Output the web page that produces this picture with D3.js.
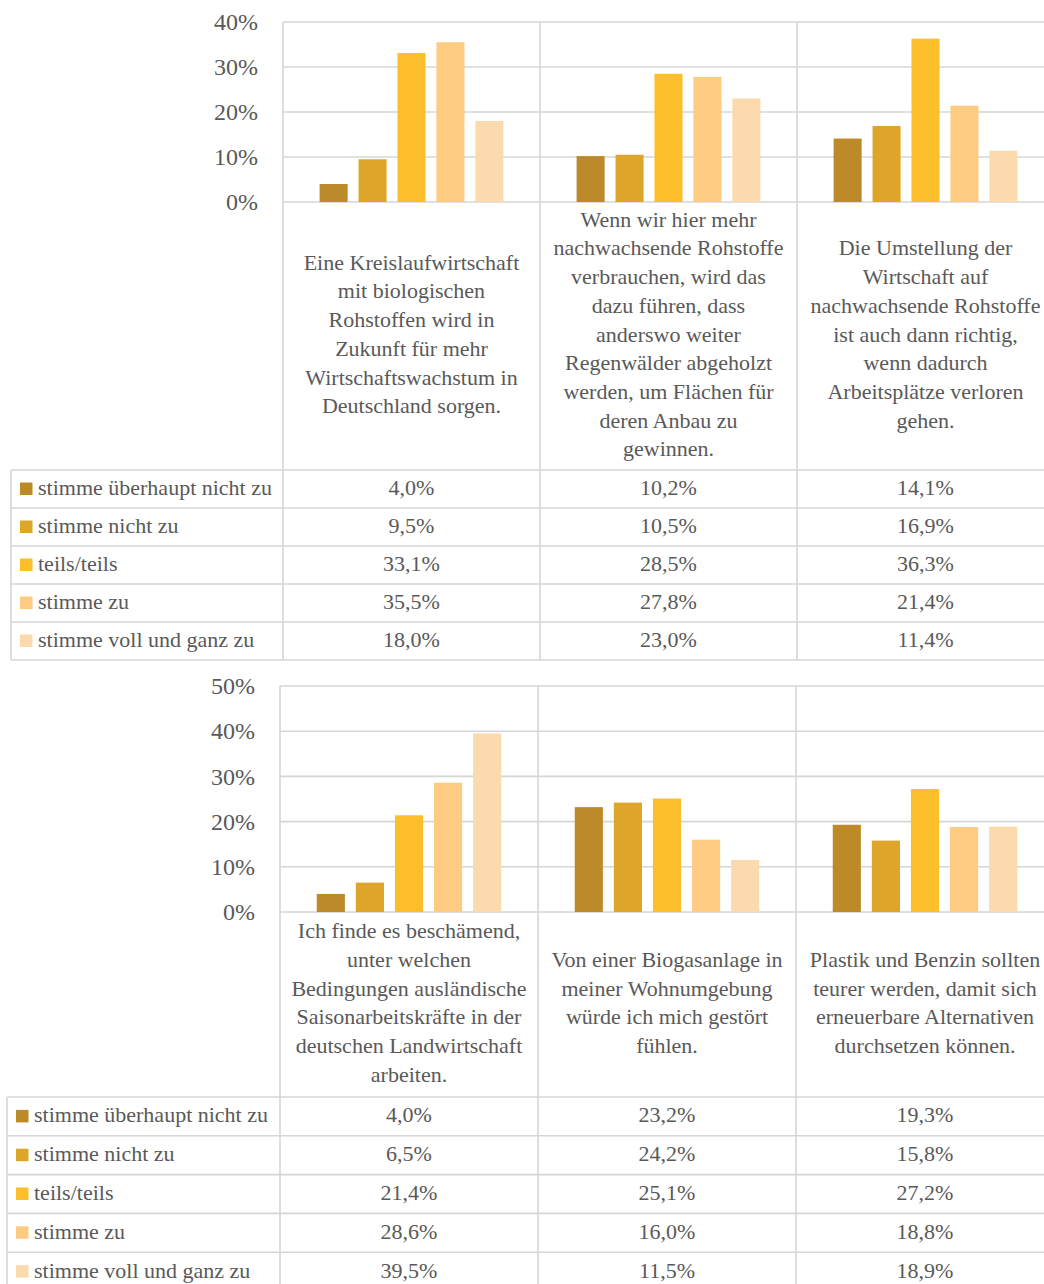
<!DOCTYPE html>
<html><head><meta charset="utf-8">
<script src="https://cdn.jsdelivr.net/npm/d3@7/dist/d3.min.js"></script>
<style>
html,body{margin:0;padding:0;background:#fff;}
svg text{font-family:"Liberation Serif","DejaVu Serif",serif !important;fill:#595959;}
</style></head>
<body><svg id="chart" width="1044" height="1284" style="font-family:'Liberation Serif',serif"></svg>
<script>
const seriesNames = ["stimme überhaupt nicht zu","stimme nicht zu","teils/teils","stimme zu","stimme voll und ganz zu"];
const seriesColors = ["#BC8A28","#DDA62A","#FDBE2C","#FECB83","#FBDAAE"];

const topCategories = [
  ["Eine Kreislaufwirtschaft","mit biologischen","Rohstoffen wird in","Zukunft für mehr","Wirtschaftswachstum in","Deutschland sorgen."],
  ["Wenn wir hier mehr","nachwachsende Rohstoffe","verbrauchen, wird das","dazu führen, dass","anderswo weiter","Regenwälder abgeholzt","werden, um Flächen für","deren Anbau zu","gewinnen."],
  ["Die Umstellung der","Wirtschaft auf","nachwachsende Rohstoffe","ist auch dann richtig,","wenn dadurch","Arbeitsplätze verloren","gehen."]
];
// values per series (rows) for each category (columns)
const topValues = [
  [4.0, 10.2, 14.1],
  [9.5, 10.5, 16.9],
  [33.1, 28.5, 36.3],
  [35.5, 27.8, 21.4],
  [18.0, 23.0, 11.4]
];
const topTicks = [0,10,20,30,40];

const bottomCategories = [
  ["Ich finde es beschämend,","unter welchen","Bedingungen ausländische","Saisonarbeitskräfte in der","deutschen Landwirtschaft","arbeiten."],
  ["Von einer Biogasanlage in","meiner Wohnumgebung","würde ich mich gestört","fühlen."],
  ["Plastik und Benzin sollten","teurer werden, damit sich","erneuerbare Alternativen","durchsetzen können."]
];
const bottomValues = [
  [4.0, 23.2, 19.3],
  [6.5, 24.2, 15.8],
  [21.4, 25.1, 27.2],
  [28.6, 16.0, 18.8],
  [39.5, 11.5, 18.9]
];
const bottomTicks = [0,10,20,30,40,50];

const svg = d3.select("#chart");
const gridColor = "#D6D6D6";
const FONT = "Liberation Serif";
const fmt = v => v.toFixed(1).replace(".", ",") + "%";

function drawPanel(cfg){
  const g = svg.append("g").attr("font-family", FONT);
  const cats = cfg.categories.map((c,i)=>"c"+i);
  const x = d3.scaleBand().domain(cats).range([cfg.left, cfg.left + 3*cfg.colW]);
  const xs = d3.scaleBand().domain(seriesNames).range([0, x.bandwidth()]).paddingInner(0.28).paddingOuter(0.94);
  const y = d3.scaleLinear().domain([0, d3.max(cfg.ticks)]).range([cfg.plotBottom, cfg.plotTop]);

  g.selectAll(".grid").data(cfg.ticks).join("line")
    .attr("x1", cfg.left).attr("x2", 1064)
    .attr("y1", d=>y(d)).attr("y2", d=>y(d))
    .attr("stroke", gridColor).attr("stroke-width", 1.6);

  const axis = d3.axisLeft(y).tickValues(cfg.ticks).tickSize(0).tickPadding(0).tickFormat(d=>d+"%");
  const ag = g.append("g").attr("transform", `translate(${cfg.left - 25},0)`).call(axis);
  ag.attr("font-family", FONT);
  ag.select(".domain").remove();
  ag.selectAll("text").attr("font-size", 24).attr("fill", "#595959").attr("dy", "0.32em");

  const rowTop = cfg.tableTop;
  const rowH = cfg.rowH;
  const rowYs = d3.range(6).map(i => rowTop + i*rowH);
  g.selectAll(".rowline").data(rowYs).join("line")
    .attr("x1", cfg.tableLeft).attr("x2", 1064)
    .attr("y1", d=>d).attr("y2", d=>d)
    .attr("stroke", gridColor).attr("stroke-width", 1.6);
  g.append("line").attr("x1", cfg.tableLeft).attr("x2", cfg.tableLeft)
    .attr("y1", rowTop).attr("y2", rowTop + 5*rowH)
    .attr("stroke", gridColor).attr("stroke-width", 1.6);

  const bounds = cats.map(c => x(c));
  g.selectAll(".vline").data(bounds).join("line")
    .attr("x1", d=>d).attr("x2", d=>d)
    .attr("y1", cfg.plotTop).attr("y2", rowTop + 5*rowH)
    .attr("stroke", gridColor).attr("stroke-width", 1.6);

  seriesNames.forEach((s, si) => {
    g.selectAll(".bar"+si).data(cfg.values[si]).join("rect")
      .attr("x", (d,ci) => x(cats[ci]) + xs(s))
      .attr("width", xs.bandwidth())
      .attr("y", d => y(d))
      .attr("height", d => y(0) - y(d))
      .attr("fill", seriesColors[si]);
  });

  const lineH = 28.7;
  const midY = (cfg.plotBottom + rowTop)/2 - 2;
  cfg.categories.forEach((lines, ci) => {
    const cx = x(cats[ci]) + x.bandwidth()/2;
    lines.forEach((ln, li) => {
      g.append("text").attr("x", cx)
        .attr("y", midY + (li - (lines.length-1)/2)*lineH)
        .attr("text-anchor", "middle").attr("dominant-baseline", "central")
        .attr("font-size", 22).text(ln);
    });
  });

  seriesNames.forEach((s, si) => {
    const cy = rowTop + si*rowH + rowH/2 - 1.5;
    g.append("rect").attr("x", cfg.tableLeft + 9).attr("y", cy - 5)
      .attr("width", 12.5).attr("height", 12.5).attr("fill", seriesColors[si]);
    g.append("text").attr("x", cfg.tableLeft + 27).attr("y", cy)
      .attr("dominant-baseline", "central").attr("font-size", 22).text(s);
    cfg.values[si].forEach((v, ci) => {
      g.append("text").attr("x", x(cats[ci]) + x.bandwidth()/2).attr("y", cy)
        .attr("text-anchor", "middle").attr("dominant-baseline", "central")
        .attr("font-size", 22).text(fmt(v));
    });
  });
}

drawPanel({categories: topCategories, values: topValues, ticks: topTicks,
  left: 283, colW: 257, plotTop: 22, plotBottom: 202, tableTop: 470, rowH: 38, tableLeft: 11});
drawPanel({categories: bottomCategories, values: bottomValues, ticks: bottomTicks,
  left: 280, colW: 258, plotTop: 686, plotBottom: 912, tableTop: 1097, rowH: 38.8, tableLeft: 7});
</script></body></html>
